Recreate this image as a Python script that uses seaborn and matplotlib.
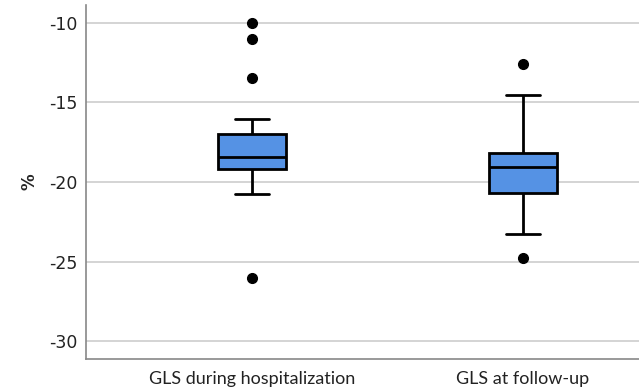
import seaborn as sns
import matplotlib.pyplot as plt
import pandas as pd

# GLS values (%)
gls_hosp = [-26.0, -20.75, -20.1, -19.6, -19.2, -19.0, -18.8, -18.6, -18.45,
            -18.2, -17.8, -17.4, -17.0, -16.05, -13.5, -11.0, -10.0]
gls_follow = [-24.75, -23.25, -22.0, -21.3, -20.7, -20.3, -19.8, -19.4, -19.05,
              -18.9, -18.6, -18.4, -18.2, -17.5, -16.2, -14.55, -12.6]
groups = ["GLS during hospitalization", "GLS at follow-up"]
y_ticks = [-10, -15, -20, -25, -30]

df = pd.DataFrame({
    "group": [groups[0]] * len(gls_hosp) + [groups[1]] * len(gls_follow),
    "value": gls_hosp + gls_follow,
})

sns.set_style("white")
plt.rcParams['font.family'] = ['DejaVu Sans']
plt.rcParams['axes.unicode_minus'] = False

fig = plt.figure(figsize=(6.39, 3.9), dpi=100)
ax = fig.add_axes([0.1346, 0.08, 0.8654, 0.907])

line_kw = dict(color="black", linewidth=2.0)
sns.boxplot(
    data=df, x="group", y="value", order=groups,
    width=0.25, color="#5592E4", saturation=1, whis=1.5,
    boxprops=dict(edgecolor="black", linewidth=2.0),
    whiskerprops=line_kw, capprops=line_kw, medianprops=line_kw,
    flierprops=dict(marker="o", markerfacecolor="black", markeredgecolor="black",
                    markersize=7),
    ax=ax, zorder=3,
)

ax.set_xlim(-0.6125, 1.428)
ax.set_ylim(-31.1, -8.9)
ax.set_yticks(y_ticks)
ax.yaxis.grid(True, color="#D4D4D4", linewidth=1.4, zorder=0)
ax.set_axisbelow(True)
ax.tick_params(axis="both", length=0, pad=6)
ax.tick_params(axis="y", labelsize=12.5, labelcolor="#222222")
for lab in ax.get_xticklabels():
    lab.set_fontfamily("Lato")
    lab.set_fontsize(13)
    lab.set_color("#222222")
ax.tick_params(axis="x", pad=9)

ax.set_xlabel("")
ax.set_ylabel("%", fontsize=12, fontweight="bold", labelpad=8)

for side in ["top", "right"]:
    ax.spines[side].set_visible(False)
for side in ["left", "bottom"]:
    ax.spines[side].set_color("#888888")
    ax.spines[side].set_linewidth(1.2)

plt.savefig("out.png", dpi=100)
